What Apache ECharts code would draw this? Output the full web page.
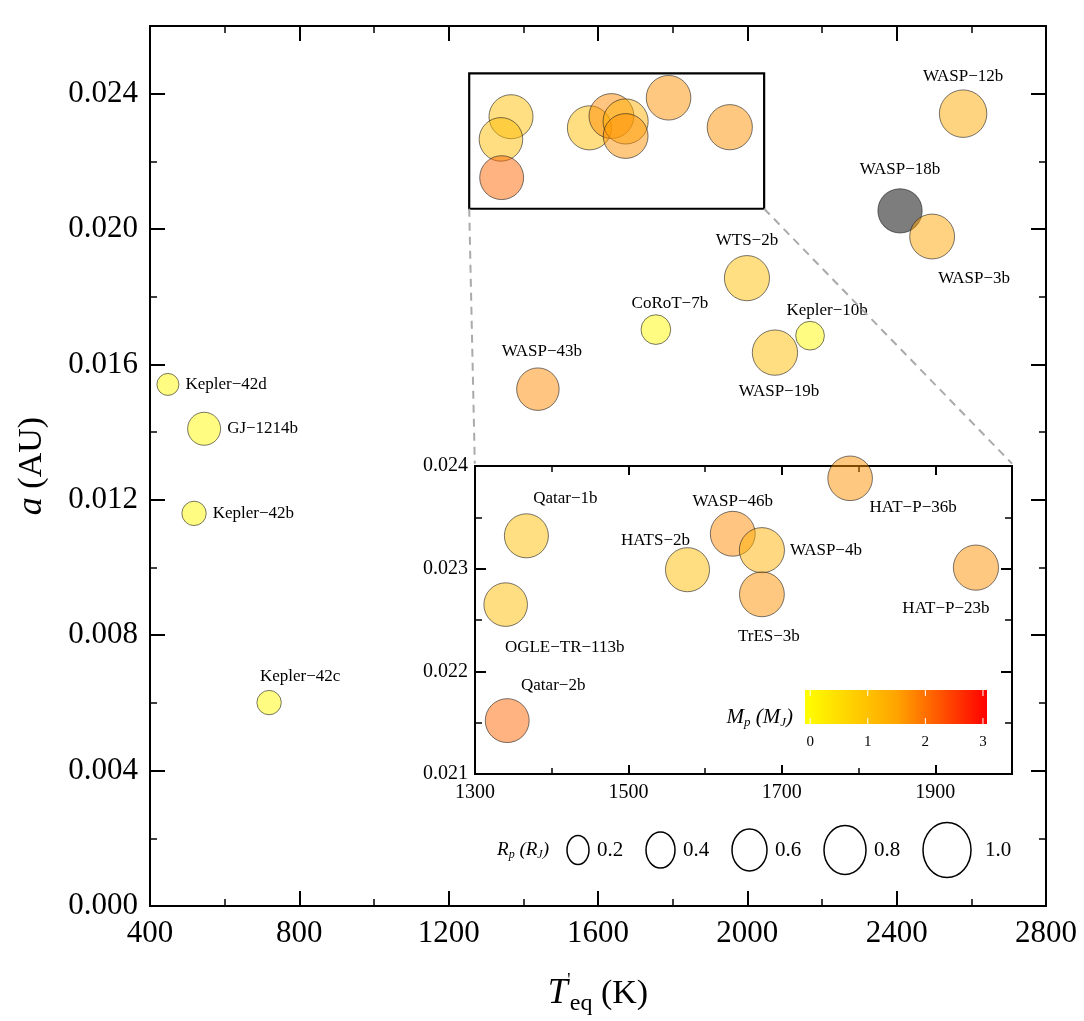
<!DOCTYPE html>
<html>
<head>
<meta charset="utf-8">
<script src="https://cdn.jsdelivr.net/npm/echarts@6/dist/echarts.min.js"></script>
<style>
  html, body { margin: 0; padding: 0; background: #fff; }
  #chart { width: 1084px; height: 1021px; }
</style>
</head>
<body>
<div id="chart"></div>
<script>
// planet data
const planets = ['Kepler−42d', 'GJ−1214b', 'Kepler−42b', 'Kepler−42c', 'WASP−43b', 'CoRoT−7b', 'WTS−2b',
  'Kepler−10b', 'WASP−19b', 'WASP−18b', 'WASP−3b', 'WASP−12b', 'Qatar−1b', 'OGLE−TR−113b', 'Qatar−2b',
  'HATS−2b', 'WASP−46b', 'WASP−4b', 'TrES−3b', 'HAT−P−36b', 'HAT−P−23b'];
const teq = [448, 545, 518, 719, 1439, 1755, 1999, 2168, 2074, 2409, 2495, 2578, 1367, 1340, 1342,
  1577, 1636, 1674, 1674, 1789, 1953];
const semiMajor = [0.01541, 0.01410, 0.01160, 0.00601, 0.01527, 0.01703, 0.01855, 0.01685, 0.01635, 0.02054,
  0.01978, 0.02341, 0.02332, 0.02265, 0.02152, 0.02299, 0.02334, 0.02318, 0.02275, 0.02388, 0.02301];
const massMJ = [0.01, 0.02, 0.01, 0.01, 1.75, 0.02, 1.05, 0.01, 1.1, 10.4, 1.5, 1.45, 1.05, 1.1, 2.1,
  1.1, 1.75, 1.3, 1.7, 1.7, 1.7];
const radiusRJ = [0.05, 0.24, 0.07, 0.07, 0.93, 0.15, 1.36, 0.13, 1.39, 1.2, 1.31, 1.9, 1.16, 1.09, 1.14,
  1.17, 1.31, 1.36, 1.3, 1.26, 1.37];

// axis ranges / ticks
const mainX = { min: 400, max: 2800, step: 400 };
const mainY = { min: 0, max: 0.026, step: 0.004 };
const insetX = { min: 1300, max: 2000, step: 200 };
const insetY = { min: 0.021, max: 0.024, step: 0.001 };

// zoom box drawn on the main panel and the inset corners (data units of the main panel)
const zoomBoxX = [1255, 2045];
const zoomBoxY = [0.0206, 0.0246];
const insetCornerX = [1270, 2709];
const insetCornerY = 0.01307;

// colour bar and size legend
const cbMin = -0.09, cbMax = 3.07;
const cbTicks = [0, 1, 2, 3];
const massColors = ['#ffff00', '#ffa500', '#ff0000'];
const sizeLegend = [0.2, 0.4, 0.6, 0.8, 1.0];

const SERIF = "'Liberation Serif', 'DejaVu Serif', serif";

const mainLabels = {
  'Kepler−42d': { position: 'right', distance: 6 },
  'GJ−1214b': { position: 'right', distance: 6 },
  'Kepler−42b': { position: 'right', distance: 6 },
  'Kepler−42c': { position: 'top', offset: [31, 0] },
  'WASP−43b': { position: 'top', distance: 7, offset: [4, 0] },
  'CoRoT−7b': { position: 'top', distance: 2, offset: [14, 0] },
  'WTS−2b': { position: 'top', distance: 6 },
  'Kepler−10b': { position: 'top', distance: 2, offset: [17, 0] },
  'WASP−19b': { position: 'bottom', distance: 7, offset: [4, 0] },
  'WASP−18b': { position: 'top', distance: 10 },
  'WASP−3b': { position: 'bottom', distance: 11, offset: [42, 0] },
  'WASP−12b': { position: 'top', distance: 4 }
};
const insetLabels = {
  'Qatar−1b': { position: 'top', distance: 6, offset: [39, 0] },
  'OGLE−TR−113b': { position: 'bottom', distance: 12, offset: [59, 0] },
  'Qatar−2b': { position: 'top', distance: 4, offset: [46, 0] },
  'HATS−2b': { position: 'top', distance: 5, offset: [-32, 7] },
  'WASP−46b': { position: 'top', distance: 1 },
  'WASP−4b': { position: 'right', distance: 5 },
  'TrES−3b': { position: 'bottom', distance: 11, offset: [7, 0] },
  'HAT−P−36b': { position: 'bottom', distance: 5, offset: [63, -7] },
  'HAT−P−23b': { position: 'bottom', distance: 9, offset: [-30, 0] }
};

const labelBase = { show: true, formatter: '{b}', color: '#000', opacity: 1, fontFamily: SERIF, fontSize: 17 };

function inInset(i) {
  return teq[i] >= insetX.min && teq[i] <= insetX.max &&
    semiMajor[i] >= insetY.min && semiMajor[i] <= insetY.max;
}

const mainData = planets.map((name, i) => ({
  name,
  value: [teq[i], semiMajor[i], massMJ[i], radiusRJ[i]],
  label: mainLabels[name] ? Object.assign({}, labelBase, mainLabels[name]) : { show: false }
}));
const insetData = planets
  .map((name, i) => ({
    name,
    value: [teq[i], semiMajor[i], massMJ[i], radiusRJ[i]],
    label: Object.assign({}, labelBase, insetLabels[name] || {}),
    keep: inInset(i)
  }))
  .filter((d) => d.keep)
  .map(({ keep, ...d }) => d);

const symbolSize = (v) => 43 + 7 * Math.log(v[3]);

function frameAxes(dim, grid, r, majorLen, minorLen, label, extra) {
  const sides = dim === 'x' ? ['bottom', 'top'] : ['left', 'right'];
  const out = [];
  sides.forEach((side, k) => {
    [[r.step, majorLen, 2], [r.step / 2, minorLen, 1.5]].forEach(([iv, len, w], j) => {
      const ax = {
        type: 'value',
        gridIndex: grid,
        position: side,
        min: r.min,
        max: r.max,
        interval: iv,
        axisLine: { show: true, onZero: false, lineStyle: { color: '#000', width: 2 } },
        axisTick: { show: true, inside: true, length: len, lineStyle: { color: '#000', width: w } },
        axisLabel: k === 0 && j === 0 ? label : { show: false },
        splitLine: { show: false }
      };
      if (k === 0 && j === 0 && extra) Object.assign(ax, extra);
      out.push(ax);
    });
  });
  return out;
}

const xAxes = [
  ...frameAxes('x', 0, mainX, 15, 7,
    { fontFamily: SERIF, fontSize: 31, color: '#000', margin: 12, formatter: (v) => String(v) },
    {
      name: '{i|T}{p|\'}{s|eq}{n| (K)}',
      nameLocation: 'middle',
      nameGap: 66,
      nameTextStyle: {
        rich: {
          i: { fontFamily: SERIF, fontStyle: 'italic', fontSize: 36, color: '#000', lineHeight: 44 },
          p: { fontFamily: SERIF, fontSize: 18, color: '#000', verticalAlign: 'top', lineHeight: 44, width: 2 },
          s: { fontFamily: SERIF, fontSize: 24, color: '#000', verticalAlign: 'bottom', lineHeight: 14 },
          n: { fontFamily: SERIF, fontSize: 34, color: '#000', lineHeight: 44 }
        }
      }
    }),
  ...frameAxes('x', 1, insetX, 9, 6,
    { fontFamily: SERIF, fontSize: 20, color: '#000', margin: 9, showMaxLabel: false,
      formatter: (v) => String(v) })
];

const yAxes = [
  ...frameAxes('y', 0, mainY, 15, 7,
    { fontFamily: SERIF, fontSize: 31, color: '#000', margin: 12, showMaxLabel: false,
      formatter: (v) => v.toFixed(3) },
    {
      name: '{i|a} (AU)',
      nameLocation: 'middle',
      nameGap: 100,
      nameTextStyle: {
        fontFamily: SERIF, fontSize: 34, color: '#000',
        rich: { i: { fontFamily: SERIF, fontStyle: 'italic', fontSize: 36, color: '#000' } }
      }
    }),
  ...frameAxes('y', 1, insetY, 11, 7,
    { fontFamily: SERIF, fontSize: 20, color: '#000', margin: 7, formatter: (v) => v.toFixed(3) })
];

// colour bar pieces
const cbBox = { x: 805, y: 690, w: 182, h: 34 };
const cbPx = (v) => cbBox.x + (v - cbMin) / (cbMax - cbMin) * cbBox.w;
const graphics = [];
graphics.push({
  type: 'rect',
  shape: { x: cbBox.x, y: cbBox.y, width: cbBox.w, height: cbBox.h },
  style: {
    fill: new echarts.graphic.LinearGradient(0, 0, 1, 0,
      massColors.map((c, i) => ({ offset: i / (massColors.length - 1), color: c })))
  },
  z: 20
});
cbTicks.forEach((t) => {
  const x = cbPx(t);
  graphics.push({ type: 'line', shape: { x1: x, y1: cbBox.y, x2: x, y2: cbBox.y + 6 },
    style: { stroke: '#fff', lineWidth: 1 }, z: 21 });
  graphics.push({ type: 'line', shape: { x1: x, y1: cbBox.y + cbBox.h - 6, x2: x, y2: cbBox.y + cbBox.h },
    style: { stroke: '#fff', lineWidth: 1 }, z: 21 });
  graphics.push({ type: 'text', x: x, y: cbBox.y + cbBox.h + 18, z: 21,
    style: { text: String(t), font: '15px ' + SERIF, fill: '#000', align: 'center', verticalAlign: 'middle' } });
});
graphics.push({
  type: 'text', x: cbBox.x - 12, y: cbBox.y + 27, z: 21,
  style: {
    text: '{i|M}{s|p}{n| (}{i|M}{s|J}{n|)}',
    align: 'right', verticalAlign: 'middle',
    rich: {
      i: { fontFamily: SERIF, fontStyle: 'italic', fontSize: 21, fill: '#000', lineHeight: 24 },
      s: { fontFamily: SERIF, fontStyle: 'italic', fontSize: 13, fill: '#000', verticalAlign: 'bottom', lineHeight: 10 },
      n: { fontFamily: SERIF, fontStyle: 'italic', fontSize: 21, fill: '#000', lineHeight: 24 }
    }
  }
});

// size legend: flow layout of ellipses and values
const legendShape = (r) => [Math.round(16 + 32 * r), Math.round(23 + 32 * r)];
const legendCy = 850;
graphics.push({
  type: 'text', x: 549, y: legendCy, z: 21,
  style: {
    text: '{i|R}{s|p}{n| (}{i|R}{s|J}{n|)}',
    align: 'right', verticalAlign: 'middle',
    rich: {
      i: { fontFamily: SERIF, fontStyle: 'italic', fontSize: 19, fill: '#000', lineHeight: 22 },
      s: { fontFamily: SERIF, fontStyle: 'italic', fontSize: 12, fill: '#000', verticalAlign: 'bottom', lineHeight: 9 },
      n: { fontFamily: SERIF, fontStyle: 'italic', fontSize: 19, fill: '#000', lineHeight: 22 }
    }
  }
});
let flowX = 567;
sizeLegend.forEach((r, i) => {
  const [w, h] = legendShape(r);
  const cx = flowX + w / 2;
  const gap = i === sizeLegend.length - 1 ? 14 : 8;
  graphics.push({ type: 'ellipse', shape: { cx, cy: legendCy, rx: w / 2, ry: h / 2 },
    style: { fill: 'none', stroke: '#000', lineWidth: 1.5 }, z: 21 });
  graphics.push({ type: 'text', x: cx + w / 2 + gap, y: legendCy, z: 21,
    style: { text: r.toFixed(1), font: '21px ' + SERIF, fill: '#000', align: 'left', verticalAlign: 'middle' } });
  flowX = cx + w / 2 + gap + 29 + 20;
});

const pointStyle = { borderColor: 'rgba(30,30,30,0.75)', borderWidth: 1 };

const option = {
  animation: false,
  backgroundColor: '#fff',
  grid: [
    { left: 150, top: 26, width: 896, height: 886 },
    { left: 475, top: 466, width: 537, height: 308, show: true, backgroundColor: '#fff', borderWidth: 0 }
  ],
  xAxis: xAxes,
  yAxis: yAxes,
  visualMap: [{
    type: 'continuous',
    show: false,
    dimension: 2,
    seriesIndex: [0, 1],
    min: cbMin,
    max: cbMax,
    range: [cbMin, cbMax - 0.001],
    inRange: { color: massColors, colorAlpha: 0.62 },
    outOfRange: { color: '#000', colorAlpha: 0.64 }
  }],
  series: [
    {
      type: 'scatter',
      xAxisIndex: 0,
      yAxisIndex: 0,
      data: mainData,
      symbolSize,
      itemStyle: pointStyle,
      z: 3,
      markArea: {
        silent: true,
        itemStyle: { color: 'rgba(0,0,0,0)', borderColor: '#000', borderWidth: 2.2, opacity: 1 },
        data: [[{ coord: [zoomBoxX[0], zoomBoxY[0]] }, { coord: [zoomBoxX[1], zoomBoxY[1]] }]]
      },
      markLine: {
        silent: true,
        symbol: ['none', 'none'],
        label: { show: false },
        lineStyle: { color: '#aaa', type: [8, 6], width: 2, opacity: 1 },
        data: [
          [{ coord: [zoomBoxX[0], zoomBoxY[0]] }, { coord: [insetCornerX[0], insetCornerY] }],
          [{ coord: [zoomBoxX[1], zoomBoxY[0]] }, { coord: [insetCornerX[1], insetCornerY] }]
        ]
      }
    },
    {
      type: 'scatter',
      xAxisIndex: 4,
      yAxisIndex: 4,
      data: insetData,
      symbolSize,
      itemStyle: pointStyle,
      z: 10
    }
  ],
  graphic: graphics
};

const chart = echarts.init(document.getElementById('chart'), null, { renderer: 'canvas' });
chart.setOption(option);
window.addEventListener('resize', () => chart.resize());
</script>
</body>
</html>
